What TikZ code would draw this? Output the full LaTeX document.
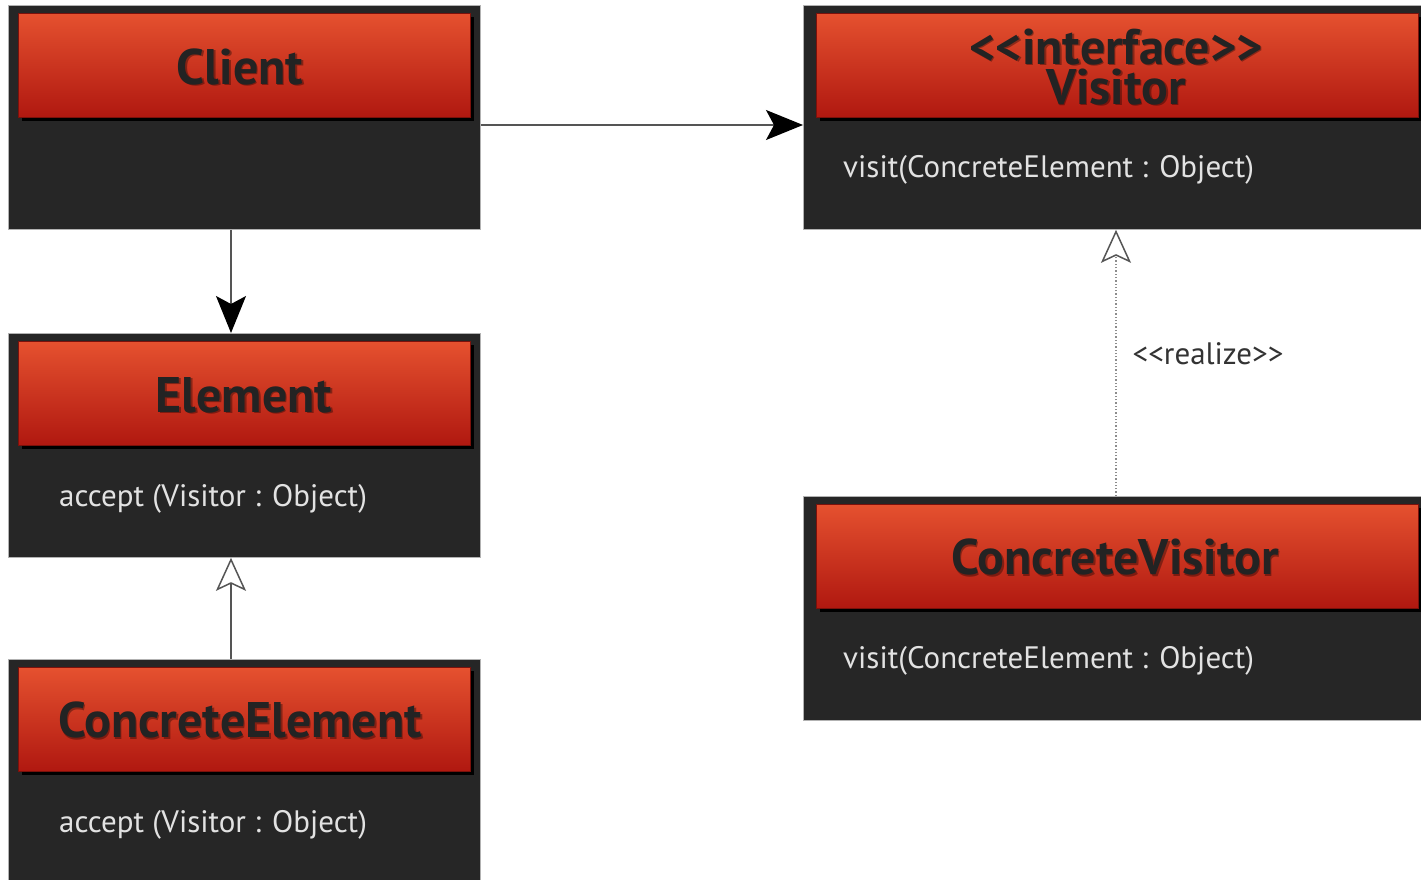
\documentclass[tikz,border=0pt]{standalone}
\usepackage{fontspec}
\setmainfont{PT Sans}
\usetikzlibrary{arrows.meta,shadows}
\definecolor{boxbg}{HTML}{262626}
\definecolor{hdtop}{HTML}{E5512F}
\definecolor{hdbot}{HTML}{B01810}
\definecolor{hdtext}{HTML}{232323}
\definecolor{bodytext}{HTML}{E2E2E2}
\definecolor{linkgray}{HTML}{555555}
\newcommand{\stereo}[1]{<{}<#1>{}>}
\tikzset{
  x=1pt, y=-1pt,
  classbox/.style={draw=black!30, line width=0.8pt, fill=boxbg, inner sep=0pt, anchor=north west},
  classhead/.style={fill=hdtop, top color=hdtop, bottom color=hdbot, draw=hdbot!70!black, line width=0.6pt,
    inner sep=0pt, anchor=north west, minimum height=104pt,
    drop shadow={shadow xshift=4pt, shadow yshift=-4pt, opacity=1, fill=black}},
  titletext/.style={font=\bfseries\fontsize{50}{40}\selectfont, text=hdtext, align=center, inner sep=0pt},
  titleshade/.style={font=\bfseries\fontsize{50}{40}\selectfont, text=black, text opacity=0.35, align=center, inner sep=0pt},
  bodylabel/.style={font=\fontsize{31}{34}\selectfont, text=bodytext, anchor=west, inner sep=0pt},
  link/.style={draw=linkgray, line width=1.3pt},
  navigates/.style={link, -{Stealth[length=37pt, width=30pt, inset=8pt, fill=black, color=black]}},
  generalizes/.style={link, -{Stealth[open, length=33pt, width=30pt, inset=7pt, fill=white, line width=1.5pt]}},
  realizes/.style={draw=black!45, line width=1.3pt, dotted, -{Stealth[open, length=33pt, width=30pt, inset=7pt, fill=white, color=linkgray, line width=1.5pt]}}
}
\begin{document}
\begin{tikzpicture}
\useasboundingbox (0,0) rectangle (1421,880);
\fill[white] (0,0) rectangle (1421,880);

% Client
\node[classbox, minimum width=472pt, minimum height=224pt] (client) at (8,5) {};
\node[classhead, minimum width=452pt] (clienthd) at (18,13) {};
\node[titleshade] at (241.5,68.5) {Client};
\node[titletext] (clientname) at (240,67) {Client};

% Element
\node[classbox, minimum width=472pt, minimum height=224pt] (element) at (8,333) {};
\node[classhead, minimum width=452pt] (elementhd) at (18,341) {};
\node[titleshade] at (245.5,396.5) {Element};
\node[titletext] (elementname) at (244,395) {Element};
\node[bodylabel] (elementop) at (59,499) {accept (Visitor : Object)};

% ConcreteElement
\node[classbox, minimum width=472pt, minimum height=240pt] (celement) at (8,659) {};
\node[classhead, minimum width=452pt] (celementhd) at (18,667) {};
\node[titleshade] at (241.5,721.5) {ConcreteElement};
\node[titletext] (celementname) at (240,720) {ConcreteElement};
\node[bodylabel] (celementop) at (59,825) {accept (Visitor : Object)};

% Visitor interface
\node[classbox, minimum width=630pt, minimum height=224pt] (visitor) at (803,5) {};
\node[classhead, minimum width=602pt] (visitorhd) at (816,13) {};
\node[titleshade] at (1117.5,68.5) {\stereo{interface}\\Visitor};
\node[titletext] (visitorname) at (1116,67) {\stereo{interface}\\Visitor};
\node[bodylabel] (visitorop) at (843,170) {visit(ConcreteElement : Object)};

% ConcreteVisitor
\node[classbox, minimum width=630pt, minimum height=224pt] (cvisitor) at (803,496) {};
\node[classhead, minimum width=602pt] (cvisitorhd) at (816,504) {};
\node[titleshade] at (1116.5,558.5) {ConcreteVisitor};
\node[titletext] (cvisitorname) at (1115,557) {ConcreteVisitor};
\node[bodylabel] (cvisitorop) at (843,661) {visit(ConcreteElement : Object)};

% Relations
\draw[navigates] (client.east |- 0,125) -- (visitor.west |- 0,125);
\draw[navigates] (client.south -| 231,0) -- (element.north -| 231,0);
\draw[generalizes] (celement.north -| 231,0) -- (element.south -| 231,0);
\draw[realizes] (cvisitor.north -| 1116,0) -- (visitor.south -| 1116,0)
  node[pos=0.535, right=16pt, font=\fontsize{31}{34}\selectfont, text=black!80, inner sep=0pt] (realizelbl) {\stereo{realize}};
\end{tikzpicture}
\end{document}
